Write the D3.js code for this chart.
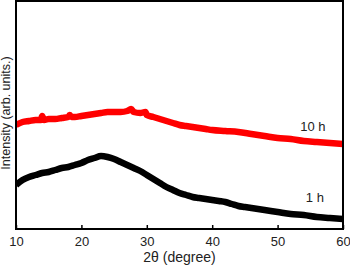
<!DOCTYPE html>
<html>
<head>
<meta charset="utf-8">
<script src="https://cdn.jsdelivr.net/npm/d3@7"></script>
<style>
  body { margin: 0; background: #fff; }
  text { font-family: "Liberation Sans", Arial, sans-serif; fill: #222; }
</style>
</head>
<body>
<div id="chart"></div>
<script>
// 2theta positions (degree) and intensities (arb. units)
var angles10h = [10, 11, 12, 13, 13.8, 14, 14.3, 15, 16, 17, 18, 18.2, 18.5, 19, 20, 21, 22, 23, 24, 25,
  26, 27, 27.6, 28, 29, 29.8, 30, 31, 32, 33, 34, 35, 36, 37, 38, 39, 40, 42, 44, 46, 48, 50, 52, 54, 56, 58, 60];
var intensity10h = [104, 107, 108, 109, 109, 113, 109, 110, 110, 111, 112, 114, 112, 112, 113, 114, 115, 116, 117, 117,
  117, 118, 120, 117, 116, 117, 114, 112, 110, 108, 106, 104, 103, 102, 101, 100, 99, 98, 97, 95, 93, 91, 90, 88, 87, 86, 85];

var angles1h = [10, 11, 12, 13, 14, 15, 16, 17, 18, 19, 20, 21, 22, 23, 24, 25, 26, 27, 28, 29, 30,
  31, 32, 33, 34, 35, 36, 37, 38, 39, 40, 41, 42, 43, 44, 45, 46, 48, 50, 52, 54, 56, 58, 60];
var intensity1h = [44, 49, 52, 54, 56, 57, 59, 61, 62, 64, 66, 69, 71, 73, 72, 70, 67, 64, 61, 58, 54,
  50, 46, 42, 39, 36, 34, 32, 31, 30, 29, 28, 27, 25, 23, 22, 21, 19, 17, 15, 14, 12, 11, 10];

var xTicks = [10, 20, 30, 40, 50, 60];
var seriesNames = ["10 h", "1 h"];
var seriesColors = ["#ff0000", "#000000"];

var margin = {top: 1, right: 7, bottom: 43, left: 16},
    width = 350 - margin.left - margin.right,
    height = 272 - margin.top - margin.bottom;

var x = d3.scaleLinear().domain([10, 60]).range([0, width]);
var y = d3.scaleLinear().domain([0, 228]).range([height, 0]);

var svg = d3.select("#chart").append("svg")
    .attr("width", 350)
    .attr("height", 272)
  .append("g")
    .attr("transform", "translate(" + margin.left + "," + margin.top + ")");

svg.append("clipPath").attr("id", "plot-clip")
  .append("rect").attr("width", width).attr("height", height);

var series = [
  {name: seriesNames[0], color: seriesColors[0], pts: angles10h.map(function(a, i) { return [a, intensity10h[i]]; })},
  {name: seriesNames[1], color: seriesColors[1], pts: angles1h.map(function(a, i) { return [a, intensity1h[i]]; })}
];

var line = d3.line()
    .curve(d3.curveMonotoneX)
    .x(function(d) { return x(d[0]); })
    .y(function(d) { return y(d[1]); });

svg.append("g").attr("clip-path", "url(#plot-clip)")
  .selectAll(".curve")
    .data(series)
  .enter().append("path")
    .attr("class", "curve")
    .attr("d", function(d) { return line(d.pts); })
    .attr("fill", "none")
    .attr("stroke", function(d) { return d.color; })
    .attr("stroke-width", 6.5)
    .attr("stroke-linejoin", "round");

// x axis with inward ticks
var xAxis = svg.append("g")
    .attr("transform", "translate(0," + height + ")")
    .call(d3.axisBottom(x).tickValues(xTicks).tickSize(-4).tickSizeOuter(0).tickPadding(8));
xAxis.select(".domain").remove();
xAxis.selectAll("line").attr("stroke", "#000").attr("stroke-width", 1.5);
xAxis.selectAll("text").style("font-size", "13px").style("font-family", "Liberation Sans, Arial, sans-serif").attr("fill", "#222");

// frame
svg.append("rect")
    .attr("width", width)
    .attr("height", height)
    .attr("fill", "none")
    .attr("stroke", "#000")
    .attr("stroke-width", 2);

// series labels
svg.append("text").attr("x", x(55.4)).attr("y", y(98)).attr("text-anchor", "middle")
    .style("font-size", "13px").text(seriesNames[0]);
svg.append("text").attr("x", x(55.7)).attr("y", y(27)).attr("text-anchor", "middle")
    .style("font-size", "13px").text(seriesNames[1]);

// axis titles
svg.append("text")
    .attr("x", width / 2)
    .attr("y", height + 33)
    .attr("text-anchor", "middle")
    .style("font-size", "14px")
    .text("2θ (degree)");

svg.append("text")
    .attr("transform", "translate(" + (-6) + "," + 112 + ") rotate(-90)")
    .attr("text-anchor", "middle")
    .style("font-size", "12.5px")
    .text("Intensity (arb. units.)");
</script>
</body>
</html>
